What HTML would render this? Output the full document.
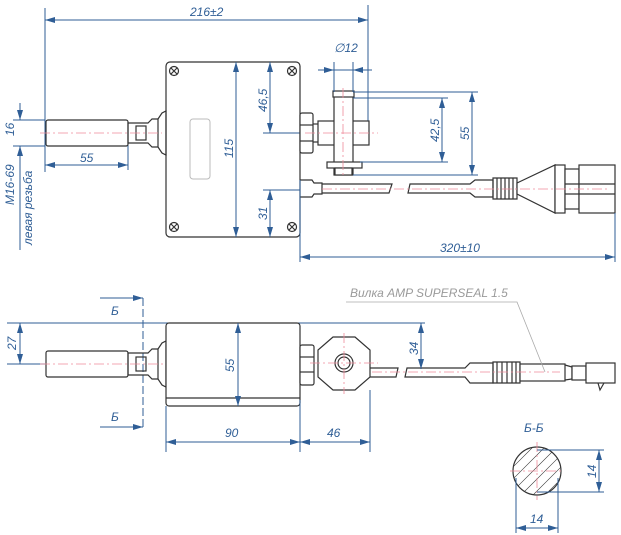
<!DOCTYPE html>
<html><head><meta charset="utf-8"><style>
html,body{margin:0;padding:0;background:#fff;width:621px;height:535px;overflow:hidden}
svg{display:block}
text{font-family:"Liberation Sans",sans-serif;font-style:italic;font-size:12px;fill:#2f5e96}
.d{stroke:#2f5e96;stroke-width:1;fill:none}
.k{stroke:#333;stroke-width:1.2;fill:none}
.kf{stroke:#333;stroke-width:1.2;fill:#fff}
.c{stroke:#ef8a9a;stroke-width:0.8;stroke-dasharray:10 3 2 3;fill:none}
</style></head><body>
<svg width="621" height="535" viewBox="0 0 621 535" xmlns="http://www.w3.org/2000/svg">
<defs>
<marker id="a" viewBox="0 0 10 6" refX="10" refY="3" markerWidth="10" markerHeight="6" orient="auto-start-reverse" markerUnits="userSpaceOnUse"><path d="M0,0L10,3L0,6z" fill="#2f5e96"/></marker>
</defs>
<!-- ===== TOP VIEW ===== -->
<!-- dims -->
<line class="d" x1="45" y1="8" x2="45" y2="172"/>
<line class="d" x1="368" y1="5" x2="368" y2="145"/>
<line class="d" x1="45" y1="20" x2="368" y2="20" marker-start="url(#a)" marker-end="url(#a)"/>
<text x="190" y="16">216±2</text>
<line class="d" x1="13" y1="120" x2="45" y2="120"/>
<line class="d" x1="13" y1="146" x2="45" y2="146"/>
<line class="d" x1="20" y1="103" x2="20" y2="120" marker-end="url(#a)"/>
<line class="d" x1="20" y1="163" x2="20" y2="146" marker-end="url(#a)"/>
<line class="d" x1="20" y1="146" x2="20" y2="250"/>
<text transform="translate(14,136) rotate(-90)">16</text>
<text transform="translate(14,205) rotate(-90)">M16-69</text>
<text transform="translate(32,245) rotate(-90)">левая резьба</text>
<line class="d" x1="128" y1="140" x2="128" y2="170"/>
<line class="d" x1="45" y1="165" x2="128" y2="165" marker-start="url(#a)" marker-end="url(#a)"/>
<text x="80" y="162">55</text>
<!-- probe -->
<rect class="k" x="46" y="120" width="82" height="26" rx="2"/>
<path class="k" d="M128,123 L148,123 L152,119 L158,119 L158,147 L152,147 L148,143 L128,143 Z"/>
<rect class="k" x="136" y="126" width="10" height="14"/>
<path class="k" d="M158,119 L162,113 L166,111 L166,155 L162,153 L158,147"/>
<line class="c" x1="40" y1="133" x2="162" y2="133"/>
<!-- box -->
<rect class="k" x="166" y="62" width="134" height="175" rx="4"/>
<rect x="190" y="119" width="20" height="60" rx="3" fill="none" stroke="#bbb" stroke-width="1"/>
<g class="k"><circle cx="174" cy="71" r="4.5"/><circle cx="292" cy="71" r="4.5"/><circle cx="174" cy="227" r="4.5"/><circle cx="292" cy="227" r="4.5"/></g>
<path class="k" d="M171,68l6,6M177,68l-6,6M289,68l6,6M295,68l-6,6M171,224l6,6M177,224l-6,6M289,224l6,6M295,224l-6,6"/>
<line class="d" x1="236" y1="62" x2="236" y2="237" marker-start="url(#a)" marker-end="url(#a)"/>
<text transform="translate(233,158) rotate(-90)">115</text>
<line class="d" x1="270" y1="62" x2="270" y2="133" marker-start="url(#a)" marker-end="url(#a)"/>
<line class="d" x1="263" y1="133" x2="300" y2="133"/>
<text transform="translate(267,112) rotate(-90)">46,5</text>
<line class="d" x1="263" y1="190" x2="300" y2="190"/>
<line class="d" x1="270" y1="190" x2="270" y2="237" marker-start="url(#a)" marker-end="url(#a)"/>
<text transform="translate(267,220) rotate(-90)">31</text>
<!-- right side top -->
<rect class="kf" x="300" y="113" width="13" height="40" rx="2"/>
<line class="k" x1="300" y1="125" x2="313" y2="125"/><line class="k" x1="300" y1="141" x2="313" y2="141"/>
<rect class="kf" x="318" y="121" width="51" height="24"/>
<line class="k" x1="313" y1="124" x2="318" y2="124"/><line class="k" x1="313" y1="142" x2="318" y2="142"/>
<rect class="kf" x="334" y="92" width="19" height="83"/>
<rect class="kf" x="333" y="91" width="21" height="6"/>
<rect class="kf" x="327" y="162" width="35" height="6"/>
<rect class="kf" x="335" y="168" width="17" height="7"/>
<line class="c" x1="343" y1="88" x2="343" y2="178"/>
<line class="c" x1="305" y1="133" x2="378" y2="133"/>
<line class="d" x1="334" y1="62" x2="334" y2="92"/>
<line class="d" x1="353" y1="62" x2="353" y2="92"/>
<line class="d" x1="318" y1="70" x2="334" y2="70" marker-end="url(#a)"/>
<line class="d" x1="372" y1="70" x2="353" y2="70" marker-end="url(#a)"/>
<line class="d" x1="334" y1="70" x2="353" y2="70"/>
<text x="334" y="52">∅12</text>
<line class="d" x1="353" y1="92" x2="478" y2="92"/>
<line class="d" x1="353" y1="98" x2="448" y2="98"/>
<line class="d" x1="360" y1="162" x2="448" y2="162"/>
<line class="d" x1="353" y1="175" x2="478" y2="175"/>
<line class="d" x1="442" y1="98" x2="442" y2="162" marker-start="url(#a)" marker-end="url(#a)"/>
<text transform="translate(439,142) rotate(-90)">42,5</text>
<line class="d" x1="472" y1="92" x2="472" y2="175" marker-start="url(#a)" marker-end="url(#a)"/>
<text transform="translate(469,140) rotate(-90)">55</text>
<!-- cable top -->
<path class="k" d="M300,180 L312,180 L314,183 L322,183 L322,194 L314,194 L312,197 L300,197"/>
<path class="k" d="M322,184 L392,184 L389,193 L322,193"/>
<path class="k" d="M410,184 L470,184 L475,180 L493,180 L493,197 L475,197 L470,193 L408,193 Z"/>
<path class="k" d="M493,178 L517,178 L517,199 L493,199 Z M497,178v21M501,178v21M505,178v21M509,178v21M513,178v21"/>
<path class="kf" d="M517,183 L555,165 L555,213 L517,194 Z"/>
<rect class="kf" x="555" y="165" width="10" height="48"/>
<rect class="kf" x="565" y="169" width="14" height="40"/>
<rect class="kf" x="579" y="165" width="36" height="48"/>
<line class="k" x1="565" y1="184" x2="615" y2="184"/><line class="k" x1="565" y1="194" x2="615" y2="194"/>
<line class="c" x1="322" y1="189" x2="610" y2="189"/>
<line class="d" x1="300" y1="180" x2="300" y2="262"/>
<line class="d" x1="615" y1="213" x2="615" y2="262"/>
<line class="d" x1="300" y1="257" x2="615" y2="257" marker-start="url(#a)" marker-end="url(#a)"/>
<text x="440" y="252">320±10</text>
<!-- ===== BOTTOM VIEW ===== -->
<line class="d" x1="100" y1="298" x2="143" y2="298" marker-end="url(#a)"/>
<line class="d" x1="100" y1="427" x2="143" y2="427" marker-end="url(#a)"/>
<line class="d" x1="143" y1="298" x2="143" y2="427" stroke-dasharray="8 3"/>
<text x="111" y="315">Б</text>
<text x="111" y="421">Б</text>
<line class="d" x1="7" y1="323" x2="425" y2="323"/>
<line class="d" x1="7" y1="364" x2="45" y2="364"/>
<line class="d" x1="20" y1="323" x2="20" y2="364" marker-start="url(#a)" marker-end="url(#a)"/>
<text transform="translate(16,350) rotate(-90)">27</text>
<rect class="k" x="46" y="351" width="82" height="26" rx="2"/>
<path class="k" d="M128,353 L148,353 L152,349 L158,349 L158,379 L152,379 L148,375 L128,375 Z"/>
<rect class="k" x="136" y="357" width="10" height="14"/>
<path class="k" d="M158,349 L162,343 L166,341 L166,387 L162,385 L158,379"/>
<line class="c" x1="40" y1="364" x2="170" y2="364"/>
<rect class="kf" x="166" y="323" width="134" height="83" rx="3"/>
<line class="k" x1="166" y1="398" x2="300" y2="398"/>
<line class="d" x1="238" y1="323" x2="238" y2="406" marker-start="url(#a)" marker-end="url(#a)"/>
<text transform="translate(234,372) rotate(-90)">55</text>
<rect class="kf" x="300" y="345" width="14" height="40" rx="2"/>
<line class="k" x1="300" y1="357" x2="314" y2="357"/><line class="k" x1="300" y1="372" x2="314" y2="372"/>
<path class="kf" d="M333,337 L355,337 L370,350 L370,377 L355,390 L333,390 L318,377 L318,350 Z"/>
<circle class="k" cx="344" cy="363" r="9"/><circle class="k" cx="344" cy="363" r="6"/>
<line class="c" x1="344" y1="333" x2="344" y2="394"/>
<line class="c" x1="310" y1="363" x2="378" y2="363"/>
<path class="k" d="M370,368 L398,368 L396,377 L370,377"/>
<path class="k" d="M407,368 L465,368 L470,363 L493,363 L493,383 L470,383 L465,377 L405,377 Z"/>
<path class="k" d="M493,362 L520,362 L520,383 L493,383 Z M497,362v21M502,362v21M507,362v21M512,362v21M516,362v21"/>
<rect class="kf" x="520" y="364" width="45" height="17"/>
<path class="k" d="M565,365 L572,367 L572,379 L565,380"/>
<rect class="kf" x="572" y="366" width="14" height="14"/>
<rect class="kf" x="586" y="363" width="29" height="20"/>
<path class="k" d="M598,383 L600,390 L604,383"/>
<line class="c" x1="372" y1="372" x2="560" y2="372"/>
<line class="d" x1="421" y1="323" x2="421" y2="369" marker-start="url(#a)" marker-end="url(#a)"/>
<text transform="translate(418,355) rotate(-90)">34</text>
<text x="350" y="297" style="fill:#9a9a9a">Вилка AMP SUPERSEAL 1.5</text>
<path d="M346,302 L517,302 L545,372" stroke="#aaa" stroke-width="0.8" fill="none"/>
<line class="d" x1="166" y1="406" x2="166" y2="452"/>
<line class="d" x1="300" y1="400" x2="300" y2="452"/>
<line class="d" x1="370" y1="390" x2="370" y2="452"/>
<line class="d" x1="166" y1="442" x2="300" y2="442" marker-start="url(#a)" marker-end="url(#a)"/>
<line class="d" x1="300" y1="442" x2="370" y2="442" marker-start="url(#a)" marker-end="url(#a)"/>
<text x="225" y="437">90</text>
<text x="327" y="437">46</text>
<!-- section -->
<text x="524" y="432">Б-Б</text>
<defs><clipPath id="cc"><circle cx="537" cy="471" r="24"/></clipPath></defs>
<g clip-path="url(#cc)" stroke="#333" stroke-width="0.6">
<path d="M500,480l40,-40M500,492l52,-52M505,499l55,-55M512,504l52,-52M520,508l48,-48M528,512l44,-44M536,516l40,-40M500,468l30,-30M500,456l20,-20"/>
</g>
<circle class="k" cx="537" cy="471" r="24"/>
<line class="c" x1="537" y1="442" x2="537" y2="500"/>
<line class="c" x1="510" y1="471" x2="564" y2="471"/>
<line class="d" x1="537" y1="450" x2="604" y2="450"/>
<line class="d" x1="537" y1="492" x2="604" y2="492"/>
<line class="d" x1="599" y1="450" x2="599" y2="492" marker-start="url(#a)" marker-end="url(#a)"/>
<text transform="translate(596,478) rotate(-90)">14</text>
<line class="d" x1="516" y1="478" x2="516" y2="533"/>
<line class="d" x1="558" y1="478" x2="558" y2="533"/>
<line class="d" x1="516" y1="528" x2="558" y2="528" marker-start="url(#a)" marker-end="url(#a)"/>
<text x="530" y="523">14</text>
</svg>
</body></html>
